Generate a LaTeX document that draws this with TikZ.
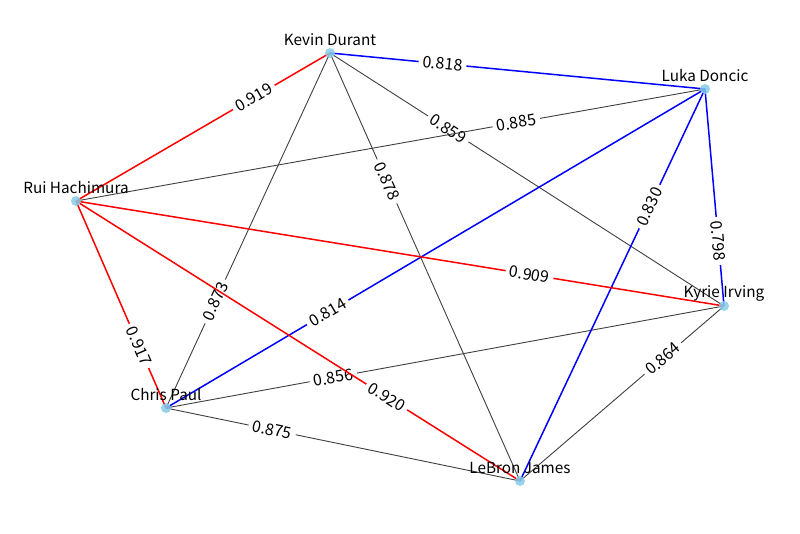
\documentclass[tikz,border=0pt]{standalone}
\usepackage{fontspec}
\setmainfont{Noto Sans CJK JP}
\definecolor{skyb}{RGB}{135,206,235}
\begin{document}
\begin{tikzpicture}[x=1pt,y=-1pt,
  redge/.style={red,line width=1.5pt},
  bedge/.style={blue,line width=1.5pt},
  kedge/.style={black!75,line width=0.9pt},
  elab/.style={pos=0.3,sloped,fill=white,inner xsep=4pt,inner ysep=1.5pt,font=\fontsize{16}{16}\selectfont,text=black},
  dot/.style={circle,fill=skyb,fill opacity=0.85,inner sep=0pt,minimum size=10pt},
  nlab/.style={font=\fontsize{15.3}{15.3}\selectfont,text=black,inner sep=0pt}]
\useasboundingbox (0,0) rectangle (800,533);
\fill[white] (0,0) rectangle (800,533);
\coordinate (KD) at (330,53);
\coordinate (LD) at (705,89);
\coordinate (RH) at (76,201);
\coordinate (KI) at (724,306);
\coordinate (CP) at (166,408);
\coordinate (LJ) at (520,481);
% edges
\draw[kedge] (CP) -- node[elab] {0.873} (KD);
\draw[kedge] (KD) -- node[elab] {0.878} (LJ);
\draw[kedge] (KD) -- node[elab] {0.859} (KI);
\draw[kedge] (LD) -- node[elab] {0.885} (RH);
\draw[kedge] (CP) -- node[elab] {0.856} (KI);
\draw[kedge] (CP) -- node[elab] {0.875} (LJ);
\draw[kedge] (KI) -- node[elab] {0.864} (LJ);
\draw[bedge] (KD) -- node[elab] {0.818} (LD);
\draw[bedge] (CP) -- node[elab] {0.814} (LD);
\draw[bedge] (LD) -- node[elab] {0.830} (LJ);
\draw[bedge] (KI) -- node[elab] {0.798} (LD);
\draw[redge] (KD) -- node[elab] {0.919} (RH);
\draw[redge] (KI) -- node[elab] {0.909} (RH);
\draw[redge] (LJ) -- node[elab] {0.920} (RH);
\draw[redge] (CP) -- node[elab] {0.917} (RH);
% dots
\foreach \n in {KD,LD,RH,KI,CP,LJ} \node[dot] (\n dot) at (\n) {};
% labels
\node[nlab] (KDl) at ([yshift=13pt]KD) {Kevin Durant};
\node[nlab] (LDl) at ([yshift=13pt]LD) {Luka Doncic};
\node[nlab] (RHl) at ([yshift=13pt]RH) {Rui Hachimura};
\node[nlab] (KIl) at ([yshift=13pt]KI) {Kyrie Irving};
\node[nlab] (CPl) at ([yshift=13pt]CP) {Chris Paul};
\node[nlab] (LJl) at ([yshift=13pt]LJ) {LeBron James};
\end{tikzpicture}
\end{document}
